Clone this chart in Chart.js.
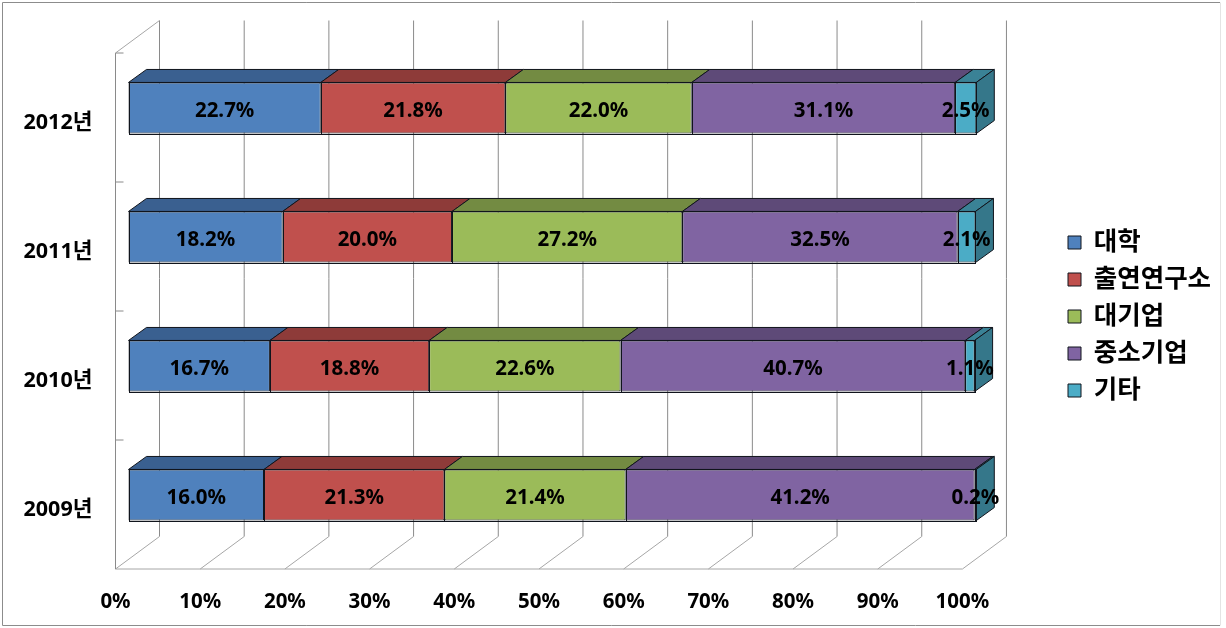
<!DOCTYPE html>
<html>
<head>
<meta charset="utf-8">
<script src="https://cdn.jsdelivr.net/npm/chart.js@4"></script>
<style>
    body { margin: 0; background: #fff; }
    #box { width: 1226px; height: 628px; position: relative; }
</style>
</head>
<body>
<div id="box"><canvas id="chart" width="1226" height="628"></canvas></div>
<script>
const years = ['2012년', '2011년', '2010년', '2009년']
const seriesNames = ['대학', '출연연구소', '대기업', '중소기업', '기타']
const univ = [22.7, 18.2, 16.7, 16.0]
const institute = [21.8, 20.0, 18.8, 21.3]
const large = [22.0, 27.2, 22.6, 21.4]
const sme = [31.1, 32.5, 40.7, 41.2]
const other = [2.5, 2.1, 1.1, 0.2]
const seriesValues = [univ, institute, large, sme, other]

const frontColors = ['#4F81BD', '#C0504D', '#9BBB59', '#8064A2', '#4BACC6']
const topColors = ['#3A6090', '#8E3B39', '#738B42', '#5E4A78', '#3A8296']
const sideColor = '#35778A'
const edge = '#10141c'
const font = '"Noto Sans", "Noto Sans CJK KR", sans-serif'

// 3d look, all of it hangs off the scales
const barDepth = { x: 18, y: -13 }
const wallFront = { x: -13, y: 9.5 }
const wallBack = { x: 31, y: -23 }

function poly(ctx, pts, fill, stroke) {
    ctx.beginPath()
    pts.forEach((p, i) => i ? ctx.lineTo(p[0], p[1]) : ctx.moveTo(p[0], p[1]))
    ctx.closePath()
    if (fill) { ctx.fillStyle = fill; ctx.fill() }
    if (stroke) { ctx.strokeStyle = stroke; ctx.lineWidth = 1; ctx.stroke() }
}

function line(ctx, x1, y1, x2, y2, color) {
    ctx.beginPath()
    ctx.moveTo(x1, y1)
    ctx.lineTo(x2, y2)
    ctx.strokeStyle = color
    ctx.lineWidth = 1
    ctx.stroke()
}

const threeD = {
    id: 'threeD',
    afterLayout(chart) {
        // move the legend away from the plot, where excel keeps it
        const l = chart.legend
        const dx = 1056.5 - l.left
        const dy = 316.5 - (l.top + l.bottom) / 2
        l.left += dx; l.right += dx
        l.top += dy; l.bottom += dy
        l.legendHitBoxes.forEach(b => { b.left += dx; b.top += dy })
    },
    beforeDraw(chart) {
        const ctx = chart.ctx
        // picture frame
        line(ctx, 2.5, 2.5, 1220, 2.5, '#8c8c8c')
        line(ctx, 2.5, 2.5, 2.5, 625.5, '#8c8c8c')
        line(ctx, 2.5, 625.5, 1220, 625.5, '#8c8c8c')
        line(ctx, 1220.5, 2.5, 1220.5, 625.5, '#e4e4e4')
    },
    beforeDatasetsDraw(chart) {
        const ctx = chart.ctx
        const xs = chart.scales.x
        const a = chart.chartArea
        const frontBottom = a.bottom + wallFront.y
        const backBottom = a.bottom + wallBack.y
        const backTop = a.top + wallBack.y
        const frontTop = a.top + wallFront.y
        const wallLeft = a.left + wallFront.x

        xs.ticks.forEach(t => {
            const px = xs.getPixelForValue(t.value)
            line(ctx, px + wallBack.x, backTop, px + wallBack.x, backBottom, '#8a8a8a')
            line(ctx, px + wallBack.x, backBottom, px + wallFront.x, frontBottom, '#a6a6a6')
        })
        line(ctx, wallLeft, frontBottom, xs.getPixelForValue(100) + wallFront.x, frontBottom, '#a6a6a6')
        line(ctx, wallLeft, frontTop, wallLeft, frontBottom, '#8a8a8a')
        line(ctx, wallLeft, frontTop, a.left + wallBack.x, backTop, '#a6a6a6')
        // tick stubs between the categories on the side wall
        const step = (a.bottom - a.top) / years.length
        for (let i = 0; i < years.length; i++) {
            const y = frontTop + step * i
            line(ctx, wallLeft, y, wallLeft + 8, y, '#8a8a8a')
        }

        // top and side of the bars, behind the front faces
        seriesValues.forEach((vals, s) => {
            chart.getDatasetMeta(s).data.forEach(el => {
                const p = el.getProps(['x', 'y', 'base', 'height'])
                const top = p.y - p.height / 2
                const bottom = p.y + p.height / 2
                poly(ctx, [[p.base, top], [p.x, top], [p.x + barDepth.x, top + barDepth.y], [p.base + barDepth.x, top + barDepth.y]],
                    topColors[s], edge)
                if (s === seriesValues.length - 1) {
                    poly(ctx, [[p.x, top], [p.x + barDepth.x, top + barDepth.y], [p.x + barDepth.x, bottom + barDepth.y], [p.x, bottom]],
                        sideColor, edge)
                }
            })
        })
    },
    afterDatasetsDraw(chart) {
        const ctx = chart.ctx
        ctx.save()
        // front face outlines again on whole pixels, the bar borders come out uneven
        ctx.strokeStyle = edge
        ctx.lineWidth = 1
        seriesValues.forEach((vals, s) => {
            chart.getDatasetMeta(s).data.forEach(el => {
                const p = el.getProps(['x', 'y', 'base', 'height'])
                const left = Math.round(p.base) + 0.5
                const right = Math.round(p.x) + 0.5
                const top = Math.round(p.y - p.height / 2) + 0.5
                const bottom = Math.round(p.y + p.height / 2) + 0.5
                ctx.strokeRect(left, top, right - left, bottom - top)
            })
        })
        ctx.font = 'bold 20.5px ' + font
        ctx.fillStyle = '#000'
        ctx.textAlign = 'center'
        ctx.textBaseline = 'middle'
        seriesValues.forEach((vals, s) => {
            chart.getDatasetMeta(s).data.forEach((el, i) => {
                const p = el.getProps(['x', 'y', 'base'])
                ctx.fillText(vals[i].toFixed(1) + '%', (p.x + p.base) / 2, p.y + 3)
            })
        })
        ctx.restore()
    }
}

const datasets = seriesNames.map((name, s) => ({
    label: name,
    data: seriesValues[s],
    backgroundColor: frontColors[s],
    borderColor: edge,
    borderWidth: 1,
    borderSkipped: false,
    barPercentage: 0.396,
    categoryPercentage: 1,
    clip: false
}))

new Chart(document.getElementById('chart').getContext('2d'), {
    type: 'bar',
    data: { labels: years, datasets: datasets },
    plugins: [threeD],
    options: {
        indexAxis: 'y',
        responsive: false,
        animation: { duration: 0 },
        layout: { padding: { top: 43.5, right: 86 } },
        plugins: {
            tooltip: { enabled: false },
            legend: {
                position: 'right',
                labels: {
                    boxWidth: 13,
                    boxHeight: 13,
                    padding: 11.5,
                    color: '#000',
                    font: { family: font, size: 25.5, weight: 'bold' }
                }
            }
        },
        scales: {
            x: {
                stacked: true,
                min: 0,
                max: 100,
                grid: { display: false },
                border: { display: false },
                afterFit(s) { s.height = 68.5 },
                ticks: {
                    stepSize: 10,
                    maxRotation: 0,
                    autoSkip: false,
                    labelOffset: -13,
                    padding: 22,
                    color: '#000',
                    font: { family: font, size: 20.5, weight: 'bold' },
                    callback: v => v + '%'
                }
            },
            y: {
                stacked: true,
                grid: { display: false },
                border: { display: false },
                afterFit(s) { s.width = 128.5 },
                ticks: {
                    labelOffset: 15,
                    padding: 28,
                    color: '#000',
                    font: { family: font, size: 21.5, weight: 'bold' }
                }
            }
        }
    }
})
</script>
</body>
</html>
